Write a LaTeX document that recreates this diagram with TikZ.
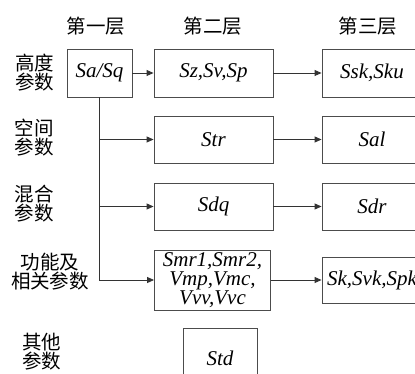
\documentclass[tikz,border=0pt]{standalone}
\usepackage{fontspec}
\setmainfont{Liberation Serif}
\newfontfamily\cjk{Noto Sans CJK SC}
\usetikzlibrary{arrows.meta}
\begin{document}
\begin{tikzpicture}[x=1pt,y=-1pt,
 box/.style={draw=black!70, line width=0.9pt, inner sep=0pt, font=\fontsize{21}{19}\selectfont\itshape, align=center},
 lab/.style={font=\cjk\fontsize{19.5}{19}\selectfont, align=center, inner sep=0pt},
 conn/.style={line width=0.9pt, draw=black!80},
 arr/.style={conn, -{Triangle[length=7pt,width=6pt]}}]
\useasboundingbox (0,0) rectangle (415,374);
\clip (0,0) rectangle (415,374);
% headers
\node[lab] (h1) at (96,26) {第一层};
\node[lab] (h2) at (213,26) {第二层};
\node[lab] (h3) at (368,26) {第三层};
% left labels
\node[lab] (l1) at (35,73) {高度\\参数};
\node[lab] (l2) at (34,138) {空间\\参数};
\node[lab] (l3) at (34,204) {混合\\参数};
\node[lab] (l4) at (50,272) {功能及\\相关参数};
\node[lab] (l5) at (42,352) {其他\\参数};
% boxes
\node[box, minimum width=65pt, minimum height=48pt] (a) at (99.5,73) {Sa/Sq};
\node[box, minimum width=119pt, minimum height=48pt] (b1) at (213.5,73) {Sz,Sv,Sp};
\node[box, minimum width=100pt, minimum height=48pt] (c1) at (372,73) {Ssk,Sku};
\node[box, minimum width=119pt, minimum height=47pt] (b2) at (213.5,139.5) {Str};
\node[box, minimum width=100pt, minimum height=47pt] (c2) at (372,139.5) {Sal};
\node[box, minimum width=119pt, minimum height=47pt] (b3) at (213.5,206.5) {Sdq};
\node[box, minimum width=100pt, minimum height=47pt] (c3) at (372,206.5) {Sdr};
\node[box, minimum width=116pt, minimum height=60pt] (b4) at (212.5,280) {Smr1,Smr2,\\Vmp,Vmc,\\Vvv,Vvc};
\node[box, minimum width=100pt, minimum height=46pt] (c4) at (372,280) {Sk,Svk,Spk};
\node[box, minimum width=74pt, minimum height=60pt] (d) at (220,358) {Std};
% connectors
\draw[arr] (a) -- (b1);
\draw[arr] (b1) -- (c1);
\draw[arr] (b2) -- (c2);
\draw[arr] (b3) -- (c3);
\draw[arr] (b4) -- (c4);
\draw[arr] (a.south) |- (b4.west);
\draw[arr] (a.south |- b2.west) -- (b2.west);
\draw[arr] (a.south |- b3.west) -- (b3.west);
\end{tikzpicture}
\end{document}
